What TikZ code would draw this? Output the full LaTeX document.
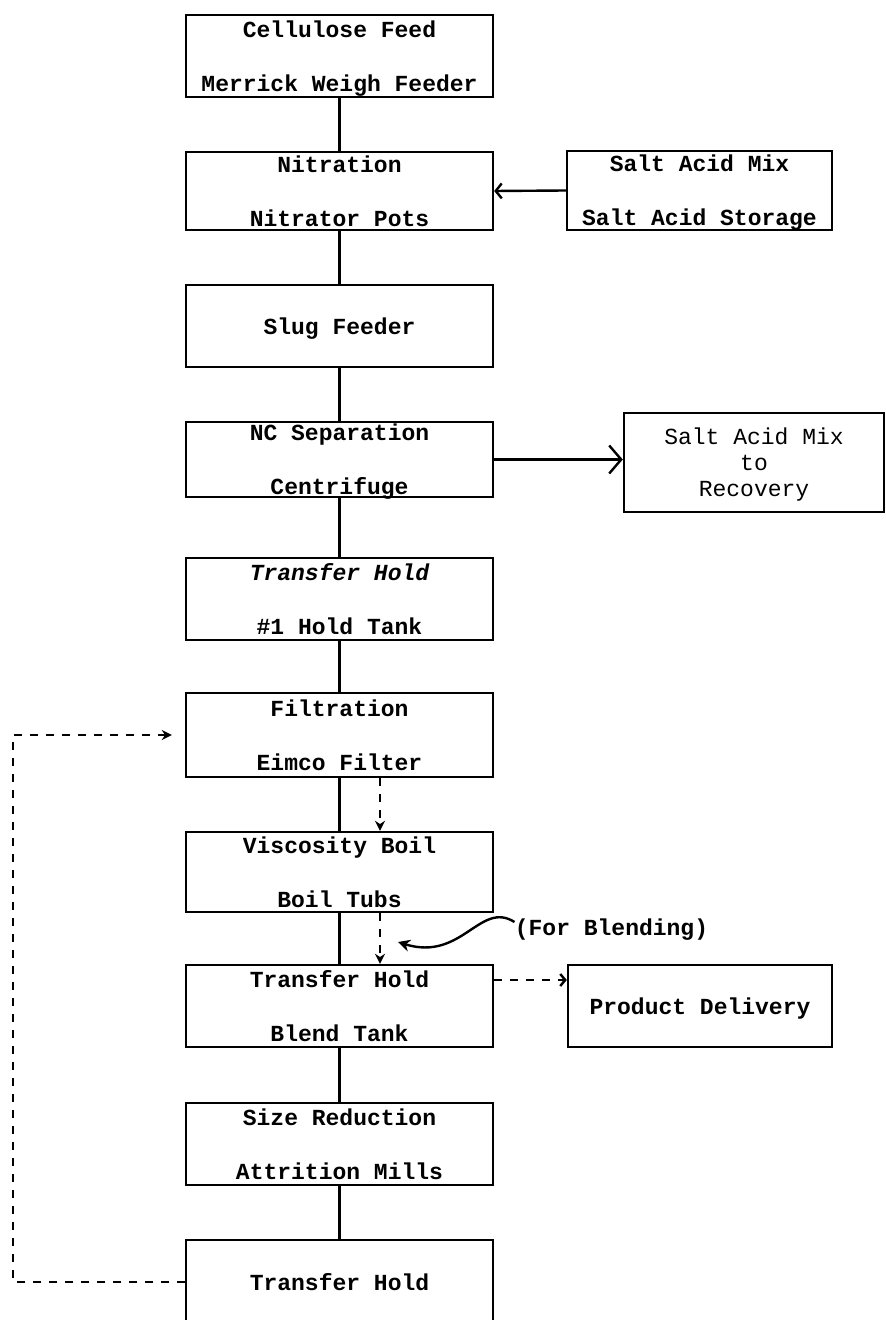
\documentclass[tikz,border=0pt]{standalone}
\usepackage{fontspec}
\setmonofont{Liberation Mono}
\usetikzlibrary{arrows.meta}
\tikzset{
  blk/.style={draw, line width=1.2pt, minimum width=153.5pt, minimum height=41pt,
    inner sep=0pt, align=center, text depth=0pt, font=\ttfamily\bfseries\fontsize{11.5}{27}\selectfont},
  sidebox/.style={blk, minimum width=132.5pt},
  flow/.style={line width=1.2pt},
  dsh/.style={line width=1.2pt, dash pattern=on 4pt off 4pt},
}
\begin{document}
\begin{tikzpicture}[x=0.5pt,y=-0.5pt]
    \useasboundingbox (0,0) rectangle (885,1320);
    % main line
    \node[blk] (feed) at (339.5,56) {Cellulose Feed\\Merrick Weigh Feeder};
    \node[blk,minimum height=39pt] (nitr) at (339.5,191) {Nitration\\Nitrator Pots};
    \node[blk] (slug) at (339.5,326) {Slug Feeder};
    \node[blk,minimum height=37.5pt] (ncsep) at (339.5,459.5) {NC Separation\\Centrifuge};
    \node[blk] (hold) at (339.5,599) {{\itshape Transfer Hold}\\\#1 Hold Tank};
    \node[blk,minimum height=42pt] (filt) at (339.5,735) {Filtration\\Eimco Filter};
    \node[blk,minimum height=40pt] (visc) at (339.5,872) {Viscosity Boil\\Boil Tubs};
    \node[blk] (blend) at (339.5,1006) {Transfer Hold\\Blend Tank};
    \node[blk] (size) at (339.5,1144) {Size Reduction\\Attrition Mills};
    \node[blk,minimum height=42pt] (thold) at (339.5,1282) {Transfer Hold};
    % side boxes
    \node[sidebox,minimum height=39.5pt] (store) at (699.5,190.5) {Salt Acid Mix\\Salt Acid Storage};
    \node[sidebox,minimum width=130pt,minimum height=49.5pt,font=\ttfamily\fontsize{11.5}{13}\selectfont] (recov) at (754,462.5) {Salt Acid Mix\\to\\Recovery};
    \node[sidebox,minimum width=132pt] (prod) at (700,1006) {Product Delivery};
    \node[font=\ttfamily\bfseries\fontsize{11.5}{13}\selectfont,inner sep=0pt] (note) at (611.5,930) {(For Blending)};
    \coordinate (ret) at (13,0);
    \coordinate (tip) at (398,942);
    % solid flow
    \draw[flow] (feed) -- (nitr);
    \draw[flow] (nitr) -- (slug);
    \draw[flow] (slug) -- (ncsep);
    \draw[flow] (ncsep) -- (hold);
    \draw[flow] (hold) -- (filt);
    \draw[flow] (filt) -- (visc);
    \draw[flow] (visc) -- (blend);
    \draw[flow] (blend) -- (size);
    \draw[flow] (size) -- (thold);
    \draw[flow,-{Straight Barb[length=3pt,width=7.5pt]}] (store.west) -- (nitr.east);
    \draw[flow,-{Straight Barb[length=6pt,width=14pt]}] (ncsep.east) -- (ncsep.east -| recov.west);
    % dashed flow
    \draw[dsh,-{Stealth[length=5pt,width=5pt]}] ([xshift=20.25pt]filt.south) -- ([xshift=20.25pt]visc.north);
    \draw[dsh,-{Stealth[length=5pt,width=5pt]}] ([xshift=20.25pt]visc.south) -- ([xshift=20.25pt]blend.north);
    \draw[dsh,-{Straight Barb[length=2.5pt,width=6pt]}] ([yshift=13pt]blend.east) -- ([yshift=13pt]blend.east -| prod.west);
    \draw[dsh,-{Stealth[length=5pt,width=5pt]}] (thold.west) -- (thold.west -| ret) |- ([xshift=-6.5pt]filt.west);
    \draw[flow,-{Stealth[length=6pt,width=6pt]}] ([yshift=4pt]note.west) .. controls (480,900) and (462,962) .. (tip);
\end{tikzpicture}
\end{document}
